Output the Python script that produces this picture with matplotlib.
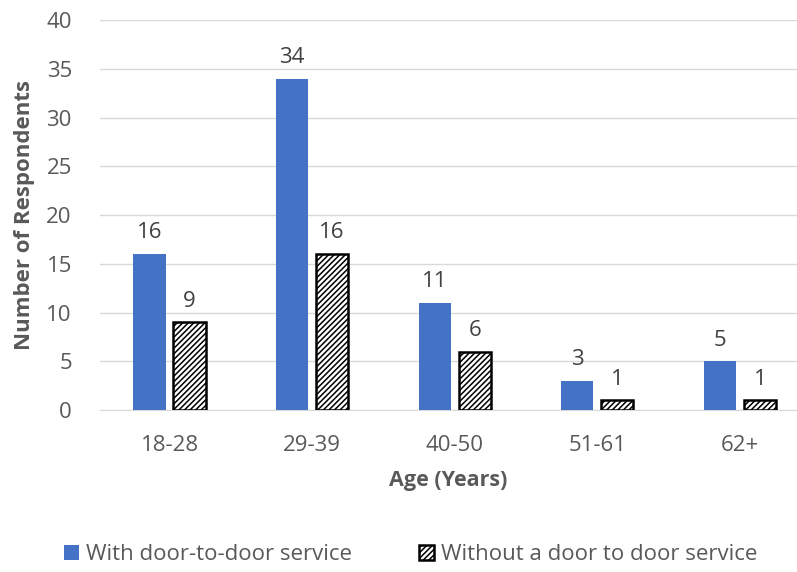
import matplotlib.pyplot as plt
import numpy as np

plt.rcParams['font.family'] = ['Open Sans', 'DejaVu Sans']
plt.rcParams['hatch.linewidth'] = 1.1
plt.rcParams['hatch.color'] = '#333333'

age_groups = ['18-28', '29-39', '40-50', '51-61', '62+']
with_service = [16, 34, 11, 3, 5]
without_service = [9, 16, 6, 1, 1]

grey = '#595959'
blue = '#4472C4'
fs = 16

fig = plt.figure(figsize=(7.97, 5.72), dpi=100)
ax = fig.add_axes([0.125, 0.283, 0.875, 0.682])

x = np.arange(len(age_groups))
w = 0.225
off = 0.14

b1 = ax.bar(x - off, with_service, w, color=blue, label='With door-to-door service', zorder=3)
b2 = ax.bar(x + off, without_service, w, color='white', edgecolor='black', linewidth=1.8,
            hatch='//////', label='Without a door to door service', zorder=3)

for xi, v in zip(x - off, with_service):
    ax.text(xi, v + 1.1, str(v), ha='center', va='bottom', fontsize=fs, color='#404040')
for xi, v in zip(x + off, without_service):
    ax.text(xi, v + 1.1, str(v), ha='center', va='bottom', fontsize=fs, color='#404040')

ax.set_ylim(0, 40)
ax.set_xlim(-0.49, 4.4)
ax.set_yticks(range(0, 41, 5))
ax.set_xticks(x)
ax.set_xticklabels(age_groups)
ax.tick_params(axis='both', length=0, labelsize=fs, colors=grey)
ax.tick_params(axis='x', pad=18)
ax.tick_params(axis='y', pad=20)
ax.yaxis.grid(True, color='#d9d9d9', linewidth=1, zorder=0)
for s in ['top', 'right', 'left']:
    ax.spines[s].set_visible(False)
ax.spines['bottom'].set_color('#d9d9d9')

ax.set_xlabel('Age (Years)', fontsize=15.5, fontweight='bold', color=grey, labelpad=10)
ax.set_ylabel('Number of Respondents', fontsize=16, fontweight='bold', color=grey, labelpad=8)

leg = fig.legend(handles=[b1, b2], loc='center', bbox_to_anchor=(0.515, 0.03), ncol=2,
                 frameon=False, fontsize=fs, handlelength=0.7, handleheight=0.7,
                 handletextpad=0.3, columnspacing=3.0)
for t in leg.get_texts():
    t.set_color(grey)

fig.savefig('out.png', dpi=100)
